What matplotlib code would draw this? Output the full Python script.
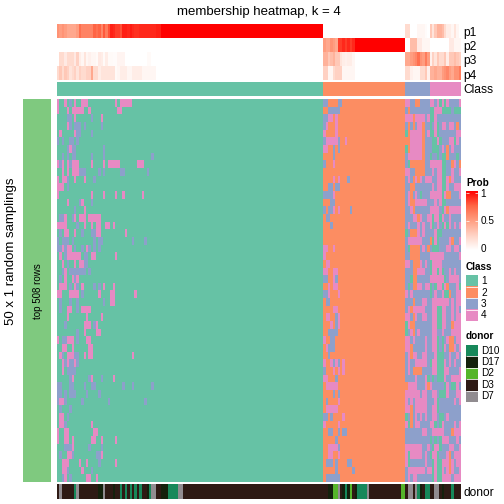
import numpy as np
import matplotlib
matplotlib.use("Agg")
import matplotlib.pyplot as plt
from matplotlib.colors import ListedColormap, LinearSegmentedColormap

plt.rcParams['font.family'] = ['Liberation Sans', 'DejaVu Sans']

class_colors = ["#66C2A5", "#FC8D62", "#8DA0CB", "#E78AC3"]
class_labels = ["1", "2", "3", "4"]
donor_names = ["D10", "D17", "D2", "D3", "D7"]
donor_colors = ["#17885A", "#14210C", "#55B52A", "#2E1A14", "#918C90"]

n_class = [110, 34, 10, 13]

# membership per sample, one list per class block
p1_c1 = [.55,.5,.55,.5,.45,.45,.45,.45,.5,.7,.62,.62,.62,.62,.62,.75,.7,.75,.6,.78,.65,.8,.92,.9,.85,.85,.8,
         .92,.92,.9,.93,.9,.88,.88,.9,.9,.9,.9,.9,.9,.9,.92,.92] + [1.0] * 67
p1_c2 = [0.0] * 34
p1_c3 = [.2,.2,0,0,0,.05,.05,.05,.02,0]
p1_c4 = [.3,.15,.3,.4,.4,.35,.2,.1,.1,.05,.15,.05,0]

p2_c1 = [0.0] * 110
p2_c2 = [.5,.45,.45,.55,.5,.45,.85,.85,.9,.85,.9,.85,.9] + [1.0] * 21
p2_c3 = [0,0,.35,.35,.35,.12,.12,.05,.05,.05]
p2_c4 = [0,0,0,0,0,0,0,0,.12,.12,.05,.05,.05]

p3_c1 = [0,.2,.2,.12,.2,.2,.2,.12,.25,.1,.05,.15,.05,.08,.05,.05,.03,.12,.1,.03,.1,.03,.03,.02,.02,.06,.06,.06,
         0,0,0,0,0,0,0,0,0,.03,.03] + [0.0] * 71
p3_c2 = [.4,.4,.3,.35,.4,.3,.3,.15,.1,.08,.1,.1,.05] + [0.0] * 21
p3_c3 = [.45,.45,.5,.55,.6,.7,.55,.5,.65,.5]
p3_c4 = [.08,.25,.15,.3,.2,.2,.3,.1,.3,.3,.35,.3,.25]

p4_c1 = [.2,.3,.2,.3,.25,.15,.2,.25,.15,.25,.2,.2,.25,.25,.45,.2,.2,.1,.15,.15,.15,.15,.15,.15,.03,.05,.1,.1,.1,
         .05,.05,.1,.1,.1,.1,.05,.05,.05,.05,.05,.05] + [0.0] * 69
p4_c2 = [.25,.25,.05,.05,.2,.25,.25,.25,.05,.05,.05,.05,.05] + [0.0] * 21
p4_c3 = [.2,.2,.08,.05,.05,.05,.2,.2,.3,.08]
p4_c4 = [.4,.4,.45,.4,.4,.5,.55,.6,.5,.45,.55,.55,.65]

# off-class samplings, class 1 block (rest of the row is class 1)
left_rows = [
    "p0 p3 b5 p7 p10-12 p24 p26-30",
    "p0 p4 p6-10 p13 p25-26",
    "b4-5 p7 b14 p18",
    "p4 b5 b7-9 b11 b18",
    "p1 p7 b8-9 b14",
    "b0 b2 b5-6 b8",
    "b4 p5 b6-7 b19",
    "b2 b4 b6-7 b14 b19 b39",
    "p0 b1 p2 p4 b5 p6-8 p14 p19 p21-25 p33-35",
    "p2 p4 p6-8 b9-11 b17 b19 b26-27 b37",
    "p0 p2-3 b4 p7 p11 b15",
    "p0-2 b4",
    "p0 p14 p19 p24 p27 p35",
    "p4 b9 p10 b14",
    "b7 p11",
    "b1-2 p3 b6 p7 p9-11 p13-17",
    "p0-3 b8 p11 p14 p16-17 p20-21 p23",
    "b1 p3-4 p7 b10 b14-15 p16-17 p28",
    "b0 b2-4 b6 b15 b17-18 b31 b36",
    "b0-1 p2 b3 p4-5 b7 b10 p12 b13 b15 b17",
    "p1 b3 p4-9 b11-12 p14-15 p24",
    "p2 b4 p7 p9-10 b11-12",
    "b2 p3 b5-7 b8-11 b13",
    "b1 p3 p6 b7 p8",
    "p1-3 b5 p7 b8 p10 b15 b17 p19 p23",
    "p0-1 p5-8 b10 p17 p22-23 p32",
    "b1 b5 b8 b19 p22-23",
    "b1 p4-5 b8 p10-13",
    "p4 p12 p18",
    "b3 p11-13 b15 p16",
    "b8 p11 p16-17",
    "p0 b2-3 p4-6 b8 p12-13",
    "p2-3 p6 p13-14",
    "p1 b2 p4-6 b7-8 p11 p13-14 p31",
    "p2 b3 p4 b5-6 p7 b8",
    "p2 b4-7",
    "b5 p6 b13 p14 b18 p23",
    "b0-1 b5-6 b11 b14-15 b27 b31 b39",
    "b0-1 b3 b5-7 b12 b17",
    "b0 p1-2 b3 b10 b21 b36",
    "b1 b5",
    "p1-2 b4",
    "p1-2 b3 p14",
    "p0 p3-4 p15-16",
    "p0 p3-4 p6 p14-15 p18 p24",
    "b3-5 p6 b13 b18",
    "b1 p4-5 b6 b16-17 p18",
    "p2-4 p9 p12 b17 p24",
    "p2-3 b4 p10 b14",
    "b2 p3 b5 p12-13 p16",
]

# off-class samplings, class 2 block (rest of the row is class 2)
mid_rows = [
    "b0-1 b6-7",
    "b2-6",
    "b0-1 p2-3 p5",
    "b0 p1 p5",
    "p0 p5",
    "b0 p1-5 b6 p9",
    "p0-1 b4 b6",
    "b4",
    "b0 p4",
    "",
    "p4 p6 b10",
    "b2-3 b5-6",
    "b0-3 p4",
    "b3-4",
    "b0 b2-3 p4 p6 b11",
    "b1-2",
    "b3",
    "",
    "",
    "p0-1 p4",
    "p0",
    "p1-2",
    "p0-1 p4-5",
    "b0-1 p4 b5",
    "p2 p4-5",
    "b0-1 p2 p6",
    "b1-2",
    "p4-5",
    "p1-2 b5 p6",
    "p3 b5 p6",
    "b2-5",
    "p0 b3-4",
    "p1 b2-4",
    "b2",
    "p0 p3 b4 p5 b6 p8",
    "b0 p4 p6 p8",
    "p0-1 b5",
    "p1-5",
    "b4 b6",
    "b1 p6",
    "p1-5",
    "b0-1 b3 p8",
    "p0 p6",
    "b2-3 b6 b8-9",
    "b5",
    "p2-5 b6",
    "p2-3 p6",
    "b1-3 b5 b10-11",
    "b5 b12",
    "b1-5 b6",
]

# classes of the 23 samples of blocks 3 and 4
right_rows = [
    "4 4 3 3 2 2 3 3 3 3 4 4 3 4 1 4 1 4 3 3 3 3 4",
    "3 2 3 3 3 3 3 3 3 3 1 1 4 4 4 1 1 1 1 3 1 1 1",
    "4 4 4 2 4 4 4 4 3 4 1 1 4 3 3 3 3 3 3 3 3 3 3",
    "3 2 3 2 3 4 4 2 3 3 1 3 4 1 3 4 4 3 4 4 3 2 3",
    "1 2 4 4 4 4 4 2 3 4 1 1 4 1 3 3 3 3 3 3 3 4 4",
    "2 2 4 4 4 4 4 2 3 3 3 1 1 4 1 3 3 3 4 4 1 4 3",
    "1 2 4 4 4 4 4 2 3 3 3 1 1 1 3 4 3 2 3 4 3 3 3",
    "3 4 4 4 4 4 4 2 3 3 1 3 3 1 3 1 1 2 3 3 3 1 3",
    "3 1 2 2 2 2 2 2 3 3 4 4 4 4 4 1 1 3 3 2 4 3 2",
    "4 4 3 3 2 2 2 2 3 3 3 4 3 4 4 1 1 3 3 4 3 3 4",
    "3 4 3 2 4 2 4 3 4 4 4 3 3 4 4 1 1 4 2 4 3 3 3",
    "3 3 2 2 3 3 3 3 3 3 3 4 3 4 4 1 1 4 3 3 4 4 4",
    "3 4 2 3 4 3 1 3 3 3 4 4 4 4 4 1 4 2 2 3 3 3 4",
    "3 4 2 2 4 4 4 4 4 3 3 3 4 3 4 1 1 3 3 3 3 3 3",
    "3 3 4 2 3 3 3 3 3 3 4 4 4 4 3 1 4 2 4 4 4 4 4",
    "3 3 3 4 4 2 4 3 3 4 4 1 4 4 1 4 3 3 4 3 3 3 3",
    "3 4 3 3 3 4 3 4 3 3 4 1 3 4 3 1 4 1 4 3 4 3 4",
    "1 3 2 2 2 4 3 4 3 3 3 3 4 1 1 3 3 3 3 3 3 3 3",
    "3 4 4 4 4 4 4 3 3 3 2 1 4 1 3 3 3 3 4 2 3 3 4",
    "3 1 2 2 2 2 3 4 3 2 3 1 1 1 3 3 3 4 4 3 4 4 3",
    "3 3 2 2 2 2 3 3 3 3 4 4 4 4 4 4 3 3 3 3 3 3 4",
    "4 4 3 2 2 2 4 3 4 3 1 4 4 4 4 3 3 3 3 3 3 3 3",
    "3 3 3 2 2 4 4 4 3 3 1 4 4 1 4 1 3 3 4 3 4 3 3",
    "3 3 1 2 2 3 3 3 3 3 4 4 4 4 4 4 1 3 4 4 4 4 3",
    "3 1 3 2 2 4 4 3 4 4 1 3 1 4 4 1 4 2 3 3 3 4 1",
    "4 3 4 3 3 3 3 3 3 3 1 3 4 3 3 4 1 1 2 3 3 4 4",
    "3 3 3 2 3 3 3 4 4 3 3 4 4 4 4 4 4 4 3 4 3 4 4",
    "3 4 2 4 4 4 4 4 3 3 3 4 4 1 1 4 4 3 3 4 3 4 3",
    "4 4 3 2 4 3 3 4 4 3 3 4 4 1 1 4 4 3 3 4 3 4 4",
    "1 4 2 2 3 3 3 3 3 3 3 4 4 1 1 4 4 3 3 2 4 4 4",
    "1 3 4 2 3 4 3 3 3 3 3 4 4 3 3 4 3 3 3 4 4 4 4",
    "4 4 3 4 3 3 3 3 4 3 3 4 4 1 3 1 3 4 2 2 3 4 4",
    "4 4 2 3 3 3 3 3 4 3 3 4 4 1 3 1 4 3 2 2 4 3 4",
    "3 4 2 4 4 3 3 4 4 3 3 3 4 1 1 1 3 3 4 3 3 4 3",
    "3 4 3 3 4 4 4 4 4 3 1 4 4 1 1 1 4 3 4 3 4 3 3",
    "3 4 3 2 2 2 2 3 3 3 3 4 4 1 1 1 4 4 3 3 3 3 4",
    "3 3 3 3 4 3 3 3 4 1 3 1 3 1 1 1 4 3 3 4 4 4 4",
    "2 4 4 4 4 3 3 3 4 2 4 3 3 3 3 3 1 4 3 1 1 4 3",
    "4 4 4 4 4 4 3 4 4 3 3 4 4 3 1 1 1 4 3 3 3 4 4",
    "4 3 4 3 4 4 4 4 4 3 3 3 4 1 3 3 3 3 3 3 4 3 4",
    "4 4 2 3 4 4 4 4 4 3 3 4 4 1 3 3 3 3 3 3 3 3 3",
    "1 3 2 3 4 3 4 3 4 3 3 4 4 3 1 1 3 4 3 3 3 3 3",
    "4 1 2 3 4 4 3 3 3 3 4 4 1 3 1 4 3 3 3 3 4 3 4",
    "3 3 3 3 3 3 3 4 4 3 3 4 4 4 4 4 3 3 3 2 4 4 4",
    "3 3 3 3 3 3 3 3 3 3 1 3 1 3 1 4 4 4 3 3 3 4 3",
    "4 4 4 4 4 4 4 3 3 4 3 1 4 4 1 3 3 3 4 4 3 3 4",
    "4 1 4 4 4 4 4 3 4 3 1 4 4 1 3 3 3 4 2 3 4 4 4",
    "4 1 3 3 3 3 3 3 4 3 3 1 4 1 1 4 4 4 2 4 3 4 4",
    "3 4 4 4 4 4 4 4 3 4 4 1 4 1 1 4 3 4 2 4 3 3 4",
    "3 4 3 4 4 3 3 3 3 3 3 1 4 1 1 4 4 4 4 3 4 4 4",
]

# donor blocks left to right: donor index and the column where the block ends
donor_seq = [3, 4, 3, 0, 4, 3, 1, 4, 3, 1, 3, 0, 3, 0, 3, 0, 3, 0, 3, 0, 3, 1, 0, 4, 3, 1, 0, 4,
             3, 1, 2, 4, 3, 1, 0, 1, 2, 3, 1, 0, 4, 3, 2, 3, 4, 3, 4, 0, 1, 3, 0, 3, 4, 3, 1, 3, 0, 3]
donor_end = [1, 2, 7, 8, 9, 17, 19, 20, 23, 24, 26, 27, 28, 29, 30, 31, 32, 33, 34, 35, 37, 38, 39, 41, 43, 46, 50, 52,
             112, 114, 116, 117, 118, 119, 120, 121, 122, 123, 124, 128, 129, 142, 144, 145, 147, 148, 149, 150, 151,
             152, 154, 156, 158, 159, 160, 163, 164, 167]


def parse_rows(rows, base, n):
    m = np.full((len(rows), n), base)
    for i, row in enumerate(rows):
        for tok in row.split():
            val = 4 if tok[0] == "p" else 3
            parts = tok[1:].split("-")
            m[i, int(parts[0]):int(parts[-1]) + 1] = val
    return m


left = parse_rows(left_rows, 1, n_class[0])
mid = parse_rows(mid_rows, 2, n_class[1])
right = np.array([(list(map(int, r.split())) + [3] * 23)[:23] for r in right_rows])
mat = np.hstack([left, mid, right])

prob = np.array([p1_c1 + p1_c2 + p1_c3 + p1_c4,
                 p2_c1 + p2_c2 + p2_c3 + p2_c4,
                 p3_c1 + p3_c2 + p3_c3 + p3_c4,
                 p4_c1 + p4_c2 + p4_c3 + p4_c4])
cls = np.repeat([1, 2, 3, 4], n_class)

donor = np.zeros(167, dtype=int)
start = 0
for d, e in zip(donor_seq, donor_end):
    donor[start:e] = d
    start = e

W = H = 504
fig = plt.figure(figsize=(W / 72, H / 72), dpi=72)


def ax_px(x0, y0, x1, y1):
    a = fig.add_axes([x0 / W, 1 - y1 / H, (x1 - x0) / W, (y1 - y0) / H])
    a.axis("off")
    return a


def txt(x, y, s, **kw):
    fig.text(x / W, 1 - y / H, s, **kw)


cmap_prob = LinearSegmentedColormap.from_list(
    "prob", ["#FFFFFF", "#FFD2C4", "#FF9E81", "#FF6645", "#FF0000"])
cmap_class = ListedColormap(class_colors)
cmap_donor = ListedColormap(donor_colors)

X0, X1 = 57, 460

ax = ax_px(X0, 24, X1, 80)
ax.imshow(prob, cmap=cmap_prob, vmin=0, vmax=1, aspect="auto", interpolation="nearest")

ax = ax_px(X0, 82, X1, 96)
ax.imshow(cls[None, :], cmap=cmap_class, vmin=1, vmax=4, aspect="auto", interpolation="nearest")

ax = ax_px(X0, 99, X1, 482)
ax.imshow(mat, cmap=cmap_class, vmin=1, vmax=4, aspect="auto", interpolation="nearest")

ax = ax_px(X0, 484, X1, 499)
ax.imshow(donor[None, :], cmap=cmap_donor, vmin=0, vmax=4, aspect="auto", interpolation="nearest")

ax = ax_px(23, 99, 51, 482)
ax.imshow([[0]], cmap=ListedColormap(["#7FC97F"]), aspect="auto")

txt(258.5, 11.5, "membership heatmap, k = 4", fontsize=13.2, ha="center", va="center")
for y, s in zip([33, 47, 61, 75.5, 90], ["p1", "p2", "p3", "p4", "Class"]):
    txt(463.5, y, s, fontsize=12, ha="left", va="center")
txt(463.5, 492.5, "donor", fontsize=12, ha="left", va="center")

txt(11.5, 251, "50 x 1 random samplings", fontsize=13.2, rotation=90, ha="center", va="center")
txt(38, 291, "top 508 rows", fontsize=9.8, rotation=90, ha="center", va="center")

# legends
txt(466, 183, "Prob", fontsize=10, fontweight="bold", ha="left", va="center")
ax = ax_px(466, 191, 478, 250)
ax.imshow(np.linspace(1, 0, 100)[:, None], cmap=cmap_prob, aspect="auto", vmin=0, vmax=1)
ax.set_ylim(99, 0)
ax.hlines([4, 51], -0.5, -0.25, color="white", lw=0.7)
ax.hlines([4, 51], 0.25, 0.5, color="white", lw=0.7)
for y, s in zip([194, 221.5, 249], ["1", "0.5", "0"]):
    txt(480.5, y, s, fontsize=10, ha="left", va="center")

txt(466, 267, "Class", fontsize=10, fontweight="bold", ha="left", va="center")
ax = ax_px(466, 275, 477.5, 321)
ax.imshow(np.arange(4)[:, None], cmap=cmap_class, aspect="auto", interpolation="nearest")
ax.hlines([0.5, 1.5, 2.5], -0.5, 0.5, color="white", lw=0.8)
for i, s in enumerate(class_labels):
    txt(481, 281 + i * 11.5, s, fontsize=10, ha="left", va="center")

txt(466, 336, "donor", fontsize=10, fontweight="bold", ha="left", va="center")
ax = ax_px(466, 345, 477.5, 402)
ax.imshow(np.arange(5)[:, None], cmap=cmap_donor, aspect="auto", interpolation="nearest")
ax.hlines([0.5, 1.5, 2.5, 3.5], -0.5, 0.5, color="white", lw=0.8)
for i, s in enumerate(donor_names):
    txt(481, 350.7 + i * 11.4, s, fontsize=10, ha="left", va="center")

fig.savefig("out.png", dpi=72)
